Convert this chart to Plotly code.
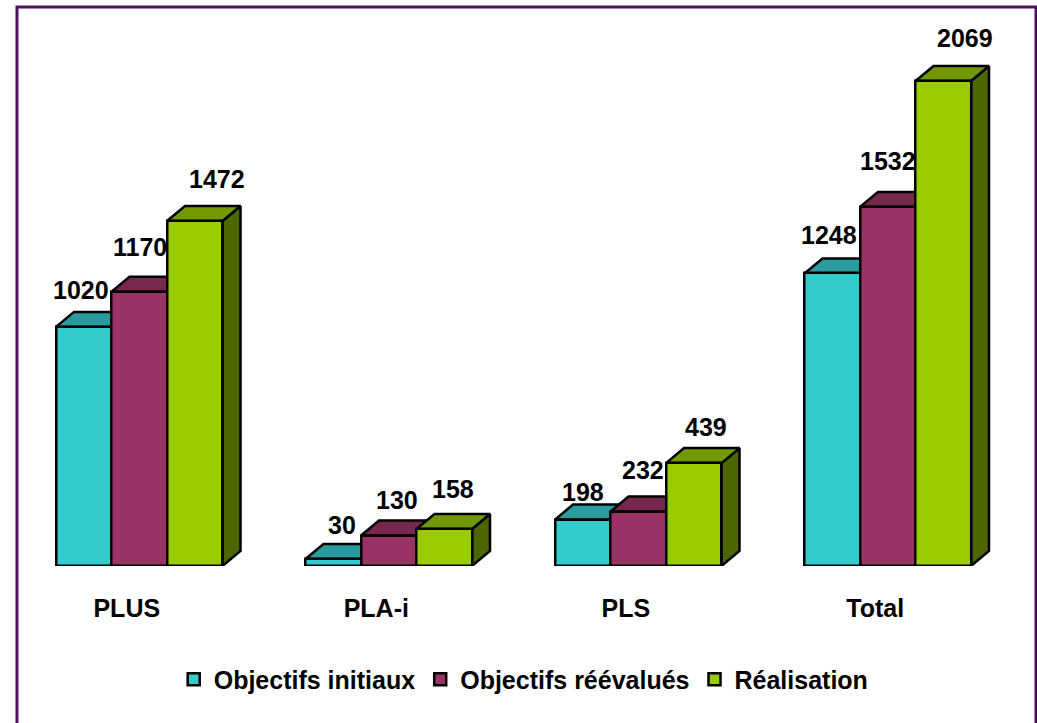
import plotly.graph_objects as go

categories = ["PLUS", "PLA-i", "PLS", "Total"]
series_names = ["Objectifs initiaux", "Objectifs réévalués", "Réalisation"]
objectifs_initiaux = [1020, 30, 198, 1248]
objectifs_reevalues = [1170, 130, 232, 1532]
realisation = [1472, 158, 439, 2069]
series_values = [objectifs_initiaux, objectifs_reevalues, realisation]
front_colors = ["#33CCCC", "#993366", "#99CC00"]
top_colors = ["#299C9F", "#76284F", "#739900"]
side_colors = ["#1F7A7A", "#5C2040", "#4D6600"]

# label offsets in pixels (x, y) relative to the bar front top centre
label_dx = [[-3, 1, 22], [9, 8, 9], [0, 5, 12], [-3, 0, 22]]
label_dy = [[37, 45, 42], [34, 36, 40], [28, 42, 36], [38, 46, 43]]

W, H = 1037, 723
BASE = 566
L, R, T, B = 14.5, 24.5, 20, H - BASE     # plot area in pixels
plot_w = W - L - R
plot_h = H - T - B
x_range = [-0.5, -0.5 + plot_w / 249.5]
px_per_unit = (BASE - 81) / 2069
y_range = [0, plot_h / px_per_unit]
DX = 18 / 249.5                        # depth, in category units
DY = 15 / px_per_unit                  # depth, in value units
BAR_W = 55.5 / 249.5
OUT = dict(color="black", width=2.5)
FONT = "Liberation Sans"

fig = go.Figure()

# depth faces first (lower axes), computed from the values
for s, vals in enumerate(series_values):
    for c, v in enumerate(vals):
        x0 = c + (s - 1.5) * BAR_W
        x1 = x0 + BAR_W
        fig.add_trace(go.Scatter(
            x=[x1, x1 + DX, x1 + DX, x1, x1], y=[0, DY, v + DY, v, 0],
            mode="lines", fill="toself", fillcolor=side_colors[s], line=OUT,
            showlegend=False, hoverinfo="skip", xaxis="x", yaxis="y"))
        fig.add_trace(go.Scatter(
            x=[x0, x0 + DX, x1 + DX, x1, x0], y=[v, v + DY, v + DY, v, v],
            mode="lines", fill="toself", fillcolor=top_colors[s], line=OUT,
            showlegend=False, hoverinfo="skip", xaxis="x", yaxis="y"))

# front faces on the overlaying axes
for s, vals in enumerate(series_values):
    fig.add_trace(go.Bar(
        x=list(range(len(categories))), y=vals, name=series_names[s],
        width=BAR_W, offset=(s - 1.5) * BAR_W,
        marker=dict(color=front_colors[s], line=dict(color="black", width=2.5)),
        xaxis="x2", yaxis="y2"))

annotations = []
for s, vals in enumerate(series_values):
    for c, v in enumerate(vals):
        annotations.append(dict(
            x=c + (s - 1) * BAR_W, y=v, xref="x2", yref="y2", text=str(v),
            showarrow=False, xanchor="center", yanchor="middle",
            xshift=label_dx[c][s], yshift=label_dy[c][s],
            font=dict(family=FONT, size=25, weight=700, color="black")))

axis_x = dict(range=x_range, showgrid=False, zeroline=False, showticklabels=False,
              ticks="", showline=False, domain=[L / W, (W - R) / W])
axis_y = dict(range=y_range, showgrid=False, zeroline=False, showticklabels=False,
              ticks="", showline=False, domain=[B / H, (H - T) / H])

fig.update_layout(
    width=W, height=H,
    margin=dict(l=0, r=0, t=0, b=0),
    paper_bgcolor="white", plot_bgcolor="rgba(0,0,0,0)",
    barmode="overlay", bargap=0,
    font=dict(family=FONT, color="black"),
    xaxis=dict(axis_x),
    yaxis=dict(axis_y),
    xaxis2=dict(axis_x, overlaying="x", anchor="y2", showticklabels=True,
                tickmode="array", tickvals=[c - 0.05 for c in range(len(categories))],
                ticktext=categories, ticklabelstandoff=25,
                tickfont=dict(family=FONT, size=25, weight=700, color="black")),
    yaxis2=dict(axis_y, overlaying="y", anchor="x2"),
    annotations=annotations,
    legend=dict(orientation="h", x=0.505, xanchor="center", y=0.06, yanchor="middle",
                font=dict(family=FONT, size=25, weight=700, color="black"),
                itemwidth=30, tracegroupgap=0, bgcolor="rgba(0,0,0,0)"),
    shapes=[dict(type="path", xref="paper", yref="paper",
                 path=f"M {17/W} 0 L {17/W} {(H-7)/H} L {1036/W} {(H-7)/H} L {1036/W} 0",
                 line=dict(color="#4F0F5F", width=3), layer="below")],
)
fig.write_html("out.html", config={"displayModeBar": False},
               post_script="document.body.style.margin='0';")
